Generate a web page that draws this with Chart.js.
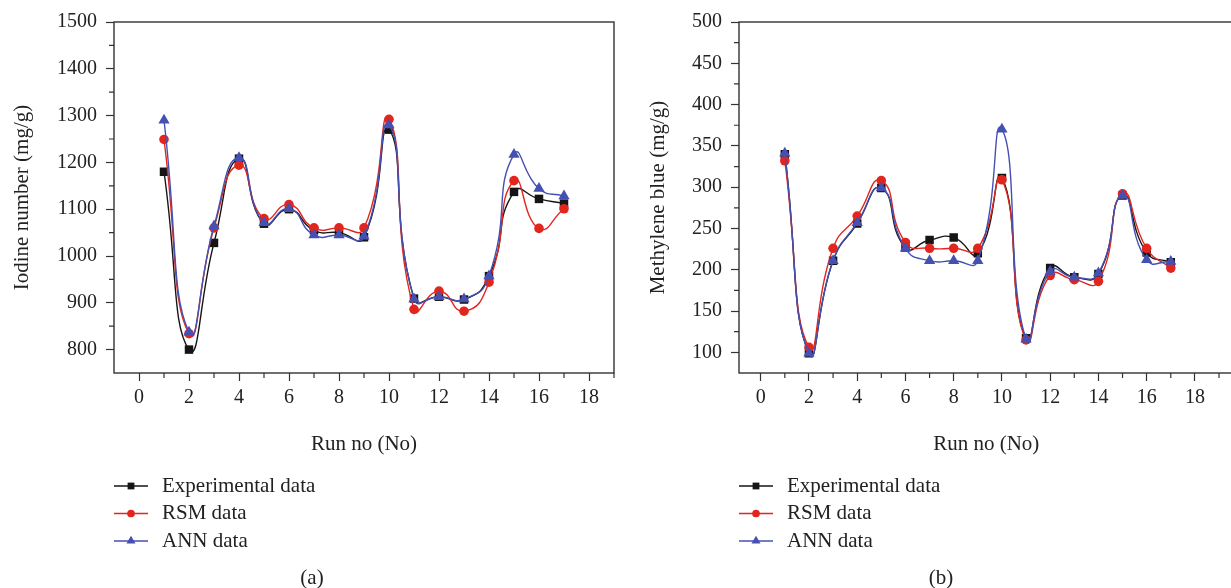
<!DOCTYPE html>
<html>
<head>
<meta charset="utf-8">
<title>Iodine number and methylene blue: experimental vs RSM vs ANN</title>
<script src="https://cdn.jsdelivr.net/npm/chart.js@4.4.1/dist/chart.umd.min.js"></script>
<style>
  html, body { margin: 0; padding: 0; background: #fff; overflow: hidden; }
  #wrap { position: relative; width: 1231px; height: 588px; overflow: hidden; }
  canvas { position: absolute; top: 0; }
  #chartA { left: 0; }
  #chartB { left: 640px; }
</style>
</head>
<body>
<div id="wrap">
  <canvas id="chartA" width="640" height="588"></canvas>
  <canvas id="chartB" width="600" height="588"></canvas>
</div>
<script>
// run numbers (x values)
const runs = [1, 2, 3, 4, 5, 6, 7, 8, 9, 10, 11, 12, 13, 14, 15, 16, 17];

// (a) iodine number, mg/g
const iodineExp = [1180, 800, 1028, 1208, 1069, 1100, 1055, 1050, 1040, 1270, 909, 913, 907, 957, 1137, 1122, 1112];
const iodineRsm = [1249, 834, 1060, 1194, 1080, 1110, 1060, 1060, 1060, 1292, 886, 925, 882, 944, 1161, 1059, 1101];
const iodineAnn = [1290, 837, 1064, 1210, 1071, 1101, 1045, 1045, 1042, 1280, 908, 913, 908, 957, 1217, 1144, 1128];

// (b) methylene blue, mg/g
const mbExp = [340, 99, 211, 256, 299, 227, 236, 239, 220, 311, 117, 202, 191, 195, 290, 221, 209];
const mbRsm = [332, 106, 226, 265, 308, 233, 226, 226, 226, 309, 115, 193, 188, 186, 292, 226, 202];
const mbAnn = [341, 99, 211, 257, 299, 226, 211, 211, 211, 370, 116, 198, 191, 196, 290, 212, 210];

// tick labels
const xTicks = [0, 2, 4, 6, 8, 10, 12, 14, 16, 18];
const xMinorTicks = [1, 3, 5, 7, 9, 11, 13, 15, 17, 19];
const yTicksA = [800, 900, 1000, 1100, 1200, 1300, 1400, 1500];
const yMinorA = [850, 950, 1050, 1150, 1250, 1350, 1450];
const yTicksB = [100, 150, 200, 250, 300, 350, 400, 450, 500];
const yMinorB = [125, 175, 225, 275, 325, 375, 425, 475];

const seriesNames = ["Experimental data", "RSM data", "ANN data"];

const SERIF = "'Liberation Serif', 'Times New Roman', serif";
const AXIS = "#333333";
const TEXT = "#222222";
const BLACK = "#151515";
const RED = "#e2261d";
const BLUE = "#4450b2";

Chart.defaults.font.family = SERIF;
Chart.defaults.color = TEXT;

// frame around the plot area plus the short minor ticks
const framePlugin = {
  id: "frame",
  beforeDatasetsDraw(chart, args, opts) {
    const a = chart.chartArea;
    const ctx = chart.ctx;
    const xs = chart.scales.x;
    const ys = chart.scales.y;
    ctx.save();
    ctx.strokeStyle = AXIS;
    ctx.lineWidth = 1.4;
    ctx.strokeRect(a.left, a.top, a.right - a.left, a.bottom - a.top);
    ctx.lineWidth = 1.2;
    ctx.beginPath();
    opts.xMinor.forEach(function (v) {
      const px = xs.getPixelForValue(v);
      ctx.moveTo(px, a.bottom);
      ctx.lineTo(px, a.bottom + 5);
    });
    opts.yMinor.forEach(function (v) {
      const py = ys.getPixelForValue(v);
      ctx.moveTo(a.left, py);
      ctx.lineTo(a.left - 5, py);
    });
    ctx.stroke();
    ctx.restore();
  },
};

// vertical legend under the chart, and the (a)/(b) caption
const sideLegend = {
  id: "sideLegend",
  afterDraw(chart, args, opts) {
    const ctx = chart.ctx;
    ctx.save();
    ctx.font = "21px " + SERIF;
    ctx.textBaseline = "middle";
    chart.data.datasets.forEach(function (ds, i) {
      const y = opts.top + i * opts.rowGap;
      ctx.strokeStyle = ds.borderColor;
      ctx.lineWidth = 1.4;
      ctx.beginPath();
      ctx.moveTo(opts.left, y);
      ctx.lineTo(opts.left + opts.lineLen, y);
      ctx.stroke();
      ctx.fillStyle = ds.pointBackgroundColor;
      Chart.helpers.drawPoint(
        ctx,
        { pointStyle: ds.pointStyle, radius: ds.pointRadius * 0.8, rotation: 0, borderWidth: 0 },
        opts.left + opts.lineLen / 2,
        y
      );
      ctx.fillStyle = TEXT;
      ctx.fillText(ds.label, opts.left + opts.lineLen + opts.gap, y);
    });
    ctx.textAlign = "center";
    ctx.fillText(opts.caption, opts.captionX, opts.captionY);
    ctx.restore();
  },
};

function makeDataset(label, values, color, style, radius, order) {
  return {
    label: label,
    data: runs.map((r, i) => ({ x: r, y: values[i] })),
    borderColor: color,
    backgroundColor: color,
    pointBackgroundColor: color,
    pointBorderColor: color,
    pointBorderWidth: 0,
    pointStyle: style,
    pointRadius: radius,
    borderWidth: 1.4,
    tension: 0.55,
    fill: false,
    order: order,
  };
}

function makeChart(id, s) {
  const ctx = document.getElementById(id).getContext("2d");
  return new Chart(ctx, {
    type: "line",
    data: {
      datasets: [
        makeDataset(seriesNames[0], s.exp, BLACK, "rect", 6, 3),
        makeDataset(seriesNames[1], s.rsm, RED, "circle", 4.8, 2),
        makeDataset(seriesNames[2], s.ann, BLUE, "triangle", 6.5, 1),
      ],
    },
    options: {
      responsive: false,
      animation: false,
      events: [],
      layout: {
        padding: { left: 0, top: 22, right: s.padRight, bottom: 131 },
      },
      plugins: {
        legend: { display: false },
        tooltip: { enabled: false },
        frame: { xMinor: xMinorTicks, yMinor: s.yMinor },
        sideLegend: s.legend,
      },
      scales: {
        x: {
          type: "linear",
          min: s.xMin,
          max: s.xMax,
          afterBuildTicks: (scale) => {
            scale.ticks = xTicks.map((v) => ({ value: v }));
          },
          afterFit: (scale) => {
            scale.height = 84;
          },
          border: { display: false },
          grid: {
            drawOnChartArea: false,
            drawTicks: true,
            tickLength: 8,
            tickColor: AXIS,
            tickWidth: 1.2,
          },
          ticks: {
            font: { size: 20 },
            color: TEXT,
            padding: 5,
            maxRotation: 0,
            autoSkip: false,
            callback: (v) => String(v),
          },
          title: {
            display: true,
            text: "Run no (No)",
            font: { size: 21 },
            color: TEXT,
            padding: { top: 0, bottom: 0 },
          },
        },
        y: {
          min: s.yMin,
          max: s.yMax,
          afterBuildTicks: (scale) => {
            scale.ticks = s.yTicks.map((v) => ({ value: v }));
          },
          afterFit: (scale) => {
            scale.width = s.yWidth;
          },
          border: { display: false },
          grid: {
            drawOnChartArea: false,
            drawTicks: true,
            tickLength: 8,
            tickColor: AXIS,
            tickWidth: 1.2,
          },
          ticks: {
            font: { size: 20 },
            color: TEXT,
            padding: 9,
            autoSkip: false,
            callback: (v) => String(v),
          },
          title: {
            display: true,
            text: s.yTitle,
            font: { size: 21 },
            color: TEXT,
            padding: { top: s.yTitlePad, bottom: 0 },
          },
        },
      },
    },
    plugins: [framePlugin, sideLegend],
  });
}

makeChart("chartA", {
  exp: iodineExp,
  rsm: iodineRsm,
  ann: iodineAnn,
  xMin: -1,
  xMax: 19,
  yMin: 750,
  yMax: 1500,
  yTicks: yTicksA,
  yMinor: yMinorA,
  yTitle: "Iodine number (mg/g)",
  yTitlePad: 10,
  yWidth: 114,
  padRight: 26,
  legend: { left: 114, top: 486, rowGap: 27.5, lineLen: 34, gap: 14, caption: "(a)", captionX: 312, captionY: 578 },
});

makeChart("chartB", {
  exp: mbExp,
  rsm: mbRsm,
  ann: mbAnn,
  xMin: -0.9,
  xMax: 19.6,
  yMin: 75,
  yMax: 500,
  yTicks: yTicksB,
  yMinor: yMinorB,
  yTitle: "Methylene blue (mg/g)",
  yTitlePad: 6,
  yWidth: 99,
  padRight: 4,
  legend: { left: 99, top: 486, rowGap: 27.5, lineLen: 34, gap: 14, caption: "(b)", captionX: 301, captionY: 578 },
});
</script>
</body>
</html>
